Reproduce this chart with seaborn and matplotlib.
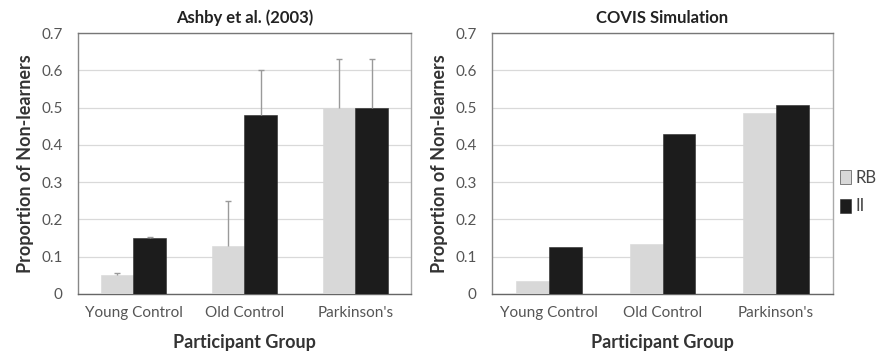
import numpy as np
import pandas as pd
import matplotlib
matplotlib.use("Agg")
import matplotlib.pyplot as plt
import seaborn as sns

groups = ["Young Control", "Old Control", "Parkinson's"]
conditions = ["RB", "II"]

ashby_rb = [0.05, 0.13, 0.50]
ashby_ii = [0.15, 0.48, 0.50]
ashby_rb_err = [0.006, 0.12, 0.13]
ashby_ii_err = [0.004, 0.12, 0.13]

covis_rb = [0.035, 0.135, 0.485]
covis_ii = [0.125, 0.43, 0.507]

titles = ["Ashby et al. (2003)", "COVIS Simulation"]
yticks = [0, 0.1, 0.2, 0.3, 0.4, 0.5, 0.6, 0.7]
ytick_labels = ["0", "0.1", "0.2", "0.3", "0.4", "0.5", "0.6", "0.7"]

sns.set_theme(style="white")
plt.rcParams["font.family"] = ["Lato", "DejaVu Sans"]

palette = {"RB": "#d8d8d8", "II": "#1c1c1c"}

def make_df(rb, ii):
    return pd.DataFrame({
        "Group": groups * 2,
        "Condition": ["RB"] * 3 + ["II"] * 3,
        "Value": list(rb) + list(ii),
    })

fig = plt.figure(figsize=(8.81, 3.58), dpi=100)
ax1 = fig.add_axes([0.0885, 0.1788, 0.378, 0.729])
ax2 = fig.add_axes([0.5585, 0.1788, 0.387, 0.729])

datasets = [(ashby_rb, ashby_ii), (covis_rb, covis_ii)]
for k, (ax, (rb, ii)) in enumerate(zip([ax1, ax2], datasets)):
    df = make_df(rb, ii)
    sns.barplot(data=df, x="Group", y="Value", hue="Condition", order=groups,
                hue_order=conditions, palette=palette, width=0.58, ax=ax,
                edgecolor="#2a2a2a", linewidth=0.4, legend=(k == 1), zorder=3,
                errorbar=None)
    for bar in ax.containers[0]:
        bar.set_edgecolor("#d8d8d8")
    ax.set_ylim(0, 0.7)
    ax.set_xlim(-0.5, 2.5)
    ax.set_yticks(yticks)
    ax.set_yticklabels(ytick_labels)
    ax.yaxis.grid(True, color="#d9d9d9", linewidth=0.9, zorder=0)
    ax.set_axisbelow(True)
    ax.set_title(titles[k], fontsize=12, fontweight="bold", pad=7, color="#222222")
    ax.set_xlabel("Participant Group", fontsize=13, fontweight="bold", color="#333333", labelpad=10)
    ax.set_ylabel("Proportion of Non-learners", fontsize=13, fontweight="bold", color="#333333", labelpad=5)
    ax.tick_params(axis="both", labelsize=11, colors="#555555", length=0)
    ax.tick_params(axis="x", pad=9)
    ax.tick_params(axis="y", length=4, width=0.8, color="#888888", direction="out", pad=7)
    ax.set_xticks([-0.5, 0.5, 1.5, 2.5], minor=True)
    ax.tick_params(axis="x", which="minor", length=4, width=0.8, color="#777777", direction="out")
    for side in ["left", "top", "right", "bottom"]:
        ax.spines[side].set_visible(True)
        ax.spines[side].set_linewidth(1.0)
    ax.spines["left"].set_color("#888888")
    ax.spines["top"].set_color("#777777")
    ax.spines["right"].set_color("#aaaaaa")
    ax.spines["bottom"].set_color("#666666")

# error bars on Ashby panel (upper only)
for cont, vals, errs in zip(ax1.containers[:2], [ashby_rb, ashby_ii], [ashby_rb_err, ashby_ii_err]):
    xs = [b.get_x() + b.get_width() / 2 for b in cont]
    eb = ax1.errorbar(xs, vals, yerr=[np.zeros(len(errs)), errs], fmt="none",
                      ecolor="#9a9a9a", elinewidth=1.0, capsize=2.5, capthick=1.0, zorder=4)
    caps = eb[1]
    if len(caps) == 2:
        caps[0].set_visible(False)

sns.move_legend(ax2, "center left", bbox_to_anchor=(1.0, 0.39), frameon=False,
                fontsize=12, handlelength=0.7, handleheight=0.9, handletextpad=0.25,
                labelspacing=0.75, borderaxespad=0.3, borderpad=0.1, title=None)
for t in ax2.get_legend().get_texts():
    t.set_color("#444444")

fig.savefig("out.png", dpi=100)
